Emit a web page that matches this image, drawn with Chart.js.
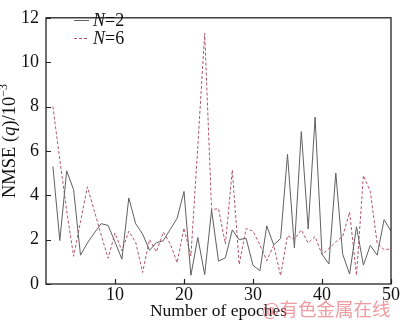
<!DOCTYPE html>
<html>
<head>
<meta charset="utf-8">
<script src="https://cdn.jsdelivr.net/npm/chart.js"></script>
<style>
  html, body { margin: 0; padding: 0; background: #fff; }
  #wrap { width: 400px; height: 325px; }
</style>
</head>
<body>
<div id="wrap"><canvas id="c" width="400" height="325"></canvas></div>
<script>
const epochs = [1,2,3,4,5,6,7,8,9,10,11,12,13,14,15,16,17,18,19,20,21,22,23,24,25,26,27,28,29,30,31,32,33,34,35,36,37,38,39,40,41,42,43,44,45,46,47,48,49,50];
const nmseN2 = [5.3,1.96,5.1,4.25,1.3,1.85,2.3,2.72,2.64,1.9,
                1.12,3.88,2.72,2.25,1.52,1.86,1.95,2.46,2.96,4.17,
                0.39,2.1,0.42,3.34,1.03,1.18,2.44,2.0,2.06,0.84,
                0.6,2.62,1.76,2.05,5.84,1.63,6.87,2.48,7.52,1.35,
                0.9,5.0,1.34,0.45,2.58,0.85,1.74,1.3,2.9,2.38];
const nmseN6 = [8.0,5.6,3.3,1.25,2.8,4.38,3.3,2.2,1.16,2.3,
                1.5,2.38,1.88,0.52,2.0,1.45,2.34,1.82,0.96,2.52,
                1.26,6.2,11.3,3.35,3.4,1.8,5.14,0.88,2.5,2.38,
                1.76,1.05,1.74,0.38,2.18,2.02,2.44,1.85,2.14,1.33,
                1.6,1.9,2.14,3.24,0.39,4.89,4.17,1.82,1.55,1.58];
const yTicks = [0,2,4,6,8,10,12];
const xTicks = [10,20,30,40,50];
const seriesNames = ['N=2','N=6'];

const SERIF = '"Liberation Serif", "DejaVu Serif", serif';
const colN2 = '#606060';
const colN6 = '#b0566c';

const framePlugin = {
  id: 'frame',
  afterDraw(chart) {
    const ctx = chart.ctx, a = chart.chartArea;
    const xs = chart.scales.x, ys = chart.scales.y;
    ctx.save();
    ctx.strokeStyle = '#222';
    ctx.lineWidth = 1.3;
    ctx.strokeRect(a.left, a.top, a.right - a.left, a.bottom - a.top);
    ctx.lineWidth = 1.2;
    ctx.beginPath();
    yTicks.forEach(v => {
      const y = Math.round(ys.getPixelForValue(v)) + 0.5;
      ctx.moveTo(a.left, y); ctx.lineTo(a.left + 5, y);
    });
    xTicks.forEach(v => {
      const x = Math.round(xs.getPixelForValue(v)) + 0.5;
      ctx.moveTo(x, a.bottom); ctx.lineTo(x, a.bottom - 5);
    });
    ctx.stroke();

    // legend
    const items = [
      {color: colN2, dash: [], txt: '=2', y: 20},
      {color: colN6, dash: [3, 2], txt: '=6', y: 38}
    ];
    items.forEach(it => {
      ctx.strokeStyle = it.color;
      ctx.lineWidth = 1;
      ctx.setLineDash(it.dash);
      ctx.beginPath();
      ctx.moveTo(74, it.y + 0.5); ctx.lineTo(89, it.y + 0.5);
      ctx.stroke();
      ctx.setLineDash([]);
      ctx.fillStyle = '#111';
      ctx.textBaseline = 'middle';
      ctx.textAlign = 'left';
      ctx.font = 'italic 18px ' + SERIF;
      ctx.fillText('N', 93, it.y + 1);
      const w = ctx.measureText('N').width;
      ctx.font = '18px ' + SERIF;
      ctx.fillText(it.txt, 93 + w, it.y + 1);
    });

    // y-axis title with italic q and superscript
    const parts = [
      {t: 'NMSE (', f: '18.5px ' + SERIF, dy: 0},
      {t: 'q', f: 'italic 18.5px ' + SERIF, dy: 0},
      {t: ')/10', f: '18.5px ' + SERIF, dy: 0},
      {t: '\u22123', f: '12px ' + SERIF, dy: -8}
    ];
    let total = 0;
    parts.forEach(p => { ctx.font = p.f; p.w = ctx.measureText(p.t).width; total += p.w; });
    ctx.translate(15, 141);
    ctx.rotate(-Math.PI / 2);
    ctx.textBaseline = 'alphabetic';
    let x = -total / 2;
    parts.forEach(p => {
      ctx.font = p.f;
      ctx.fillText(p.t, x, p.dy);
      x += p.w;
    });
    ctx.setTransform(1, 0, 0, 1, 0, 0);

    // watermark
    ctx.font = '18.5px "Noto Sans CJK SC", sans-serif';
    ctx.fillStyle = 'rgba(236,120,128,0.75)';
    ctx.textAlign = 'left';
    ctx.textBaseline = 'alphabetic';
    ctx.fillText('@有色金属在线', 262, 316);
    ctx.restore();
  }
};

new Chart(document.getElementById('c'), {
  type: 'line',
  data: {
    datasets: [
      {
        label: seriesNames[0],
        data: epochs.map((e, i) => ({x: e, y: nmseN2[i]})),
        borderColor: colN2,
        borderWidth: 1,
        pointRadius: 0,
        tension: 0,
        fill: false
      },
      {
        label: seriesNames[1],
        data: epochs.map((e, i) => ({x: e, y: nmseN6[i]})),
        borderColor: colN6,
        borderWidth: 1,
        borderDash: [3, 2],
        pointRadius: 0,
        tension: 0,
        fill: false
      }
    ]
  },
  options: {
    responsive: false,
    animation: false,
    events: [],
    layout: { padding: { left: 0, right: 7, top: 4, bottom: 0 } },
    plugins: { legend: { display: false }, tooltip: { enabled: false } },
    scales: {
      x: {
        type: 'linear', min: 0, max: 50,
        grid: { display: false, drawTicks: false, tickLength: 0 },
        border: { display: false },
        afterBuildTicks: s => { s.ticks = [0].concat(xTicks).map(v => ({value: v})); },
        ticks: {
          callback: v => (v === 0 ? '' : String(v)),
          font: { family: SERIF, size: 18 },
          color: '#111', padding: 0, maxRotation: 0, autoSkip: false
        },
        title: {
          display: true, text: 'Number of epoches',
          font: { family: SERIF, size: 17.5 }, color: '#111',
          padding: { top: 0, bottom: 3 }
        },
        afterFit: s => { s.height = 41; }
      },
      y: {
        min: 0, max: 12,
        grid: { display: false, drawTicks: false, tickLength: 0 },
        border: { display: false },
        afterBuildTicks: s => { s.ticks = yTicks.map(v => ({value: v})); },
        ticks: {
          font: { family: SERIF, size: 18 },
          color: '#111', padding: 7
        },
        afterFit: s => { s.width = 46; }
      }
    }
  },
  plugins: [framePlugin]
});
</script>
</body>
</html>
